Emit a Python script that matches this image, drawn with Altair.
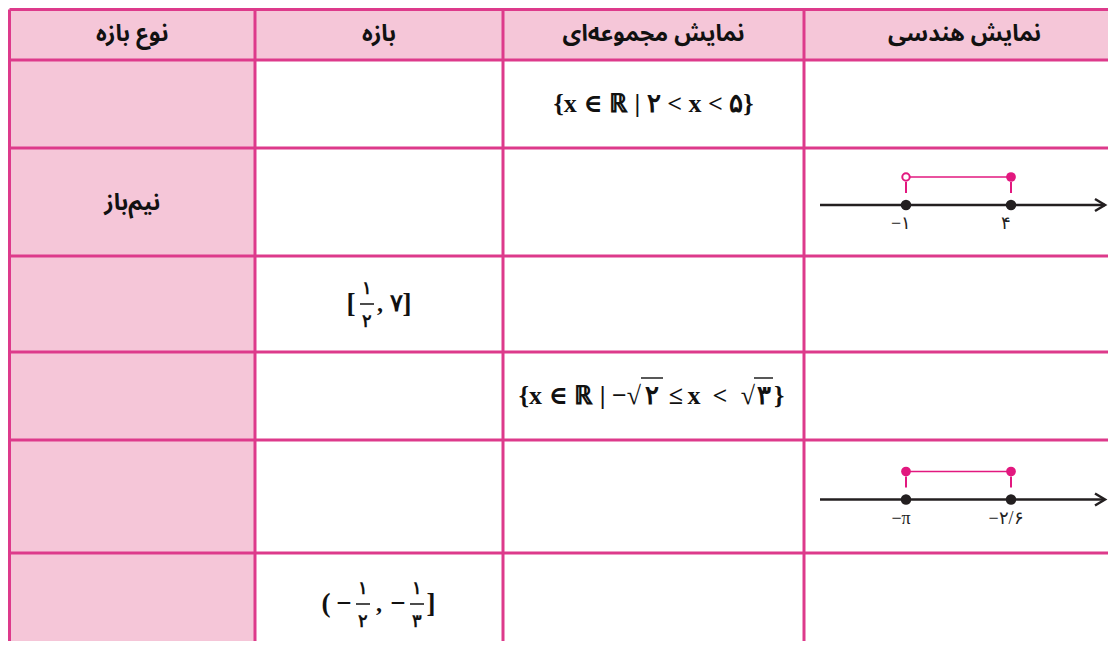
import altair as alt
import pandas as pd

# ---------------- data ----------------
HEADERS = ["نوع بازه", "بازه", "نمایش مجموعه‌ای", "نمایش هندسی"]   # visual left -> right
N_ROWS = 7                      # header + 6 body rows
TYPE_ROWS = [2]
TYPE_TEXT = ["نیم‌باز"]
SET1_ROW = 1
SET1_TEXT = "{x ∈ ℝ | ۲ < x < ۵}"
SET2_ROW = 4
SET2_TOKENS = ["{x ∈ ℝ | −√", "۲", "≤", "x", "<", "√", "۳", "}"]
INT_ROWS = [3, 6]
INT_TOKENS = [
    ["[", ("۱", "۲"), ",", "۷", "]"],
    ["(", "−", ("۱", "۲"), ",", "−", ("۱", "۳"), "]"],
]
NL_ROWS = [2, 5]
NL_LEFT_LABEL = ["−۱", "−π"]
NL_RIGHT_LABEL = ["۴", "−۲/۶"]
NL_LEFT_CLOSED = [False, True]
NL_RIGHT_CLOSED = [True, True]

# ---------------- layout / style ----------------
XE = [9.5, 255, 503, 804, 1125]                       # column edges (page px)
YE = [9.5, 60, 148, 256, 352, 440, 553, 655]          # row edges (page px)
M = 8
W, H = 1100, 633
BORDER = "#dd3a8b"
HEAD_FILL = "#f5c6d8"
PINK = "#e2187f"
DARK = "#231f20"
INK = "#111111"
AR_FONT = "Noto Sans Arabic, DejaVu Sans"
MATH_FONT = "Liberation Serif, DejaVu Serif"

# token centres (page px) for the interval cells
INT_LAYOUT = [
    [351, 367, 380, 396, 407],
    [326, 344, 363, 379, 398, 417, 431],
]
# set row 2 pieces: (align, page x)
SET2_LAYOUT = [("right", 641), ("center", 652), ("center", 676), ("center", 694), ("center", 720),
               ("right", 755), ("center", 764), ("left", 774)]
SET2_BARS = [(641, 663), (754, 773)]


def ux(px):
    for i in range(len(XE) - 1):
        if px <= XE[i + 1] or i == len(XE) - 2:
            return i + (px - XE[i]) / (XE[i + 1] - XE[i])


def uy(py):
    for i in range(len(YE) - 1):
        if py <= YE[i + 1] or i == len(YE) - 2:
            return i + (py - YE[i]) / (YE[i + 1] - YE[i])


def ccx(col):
    return (XE[col] + XE[col + 1]) / 2


def ccy(row):
    return (YE[row] + YE[row + 1]) / 2


xs = alt.Scale(domain=list(range(len(XE))), range=[e - M for e in XE], zero=False, nice=False)
ys = alt.Scale(domain=list(range(len(YE))), range=[e - M for e in YE], zero=False, nice=False)


def X(f="x"):
    return alt.X(f"{f}:Q", scale=xs, axis=None)


def Y(f="y"):
    return alt.Y(f"{f}:Q", scale=ys, axis=None)


def txt(df, **kw):
    base = dict(font=MATH_FONT, fontWeight="bold", color=INK)
    base.update(kw)
    return alt.Chart(df).mark_text(**base).encode(x=X(), y=Y(), text="t:N")


layers = []

# cells
cells = []
for r in range(N_ROWS):
    for c in range(4):
        kind = "head" if (r == 0 or c == 0) else "body"
        cells.append({"x": c, "x2": c + 1, "y": r, "y2": r + 1, "kind": kind})
layers.append(
    alt.Chart(pd.DataFrame(cells)).mark_rect(strokeWidth=0).encode(
        x=X(), x2="x2", y=Y(), y2="y2",
        color=alt.Color("kind:N", scale=alt.Scale(domain=["head", "body"], range=[HEAD_FILL, "white"]), legend=None),
    )
)

# grid lines
vl = pd.DataFrame([{"x": c, "y": 0, "y2": N_ROWS} for c in range(4)])
hl = pd.DataFrame([{"x": 0, "x2": 4, "y": r} for r in range(N_ROWS)])
layers.append(alt.Chart(vl).mark_rule(color=BORDER, strokeWidth=3).encode(x=X(), y=Y(), y2="y2"))
layers.append(alt.Chart(hl).mark_rule(color=BORDER, strokeWidth=3).encode(x=X(), x2="x2", y=Y()))

# headers
hd = pd.DataFrame({"x": [c + 0.5 for c in range(4)], "y": [uy(ccy(0) - 1)] * 4, "t": HEADERS})
layers.append(txt(hd, font=AR_FONT, fontSize=23))

# type column
td = pd.DataFrame({"x": [0.5] * len(TYPE_ROWS), "y": [uy(ccy(r) + 1) for r in TYPE_ROWS], "t": TYPE_TEXT})
layers.append(txt(td, font=AR_FONT, fontSize=23))

# set notation
layers.append(txt(pd.DataFrame({"x": [2.5], "y": [SET1_ROW + 0.5], "t": [SET1_TEXT]}), fontSize=26))
cy4 = ccy(SET2_ROW)
for tok, (al, px) in zip(SET2_TOKENS, SET2_LAYOUT):
    layers.append(txt(pd.DataFrame({"x": [ux(px)], "y": [uy(cy4)], "t": [tok]}), fontSize=26, align=al))
bars = pd.DataFrame({"x": [ux(a) for a, b in SET2_BARS], "x2": [ux(b) for a, b in SET2_BARS],
                     "y": [uy(cy4 - 18)] * len(SET2_BARS)})
layers.append(alt.Chart(bars).mark_rule(color=INK, strokeWidth=1.4).encode(x=X(), x2="x2", y=Y()))

# interval notation with stacked fractions
for row, toks, lay in zip(INT_ROWS, INT_TOKENS, INT_LAYOUT):
    cy0 = ccy(row)
    for tok, fx in zip(toks, lay):
        if isinstance(tok, tuple):
            fr = pd.DataFrame({"x": [ux(fx)] * 2, "y": [uy(cy0 - 15), uy(cy0 + 18)], "t": list(tok)})
            layers.append(txt(fr, fontSize=18))
            bar = pd.DataFrame({"x": [ux(fx - 7)], "x2": [ux(fx + 7)], "y": [uy(cy0)]})
            layers.append(alt.Chart(bar).mark_rule(color=INK, strokeWidth=1.5).encode(x=X(), x2="x2", y=Y()))
        else:
            d = pd.DataFrame({"x": [ux(fx)], "y": [uy(cy0)], "t": [tok]})
            layers.append(txt(d, fontSize=27 if tok in "−[]()" else 24))

# number lines
AX0, AX1 = 820, 1105
P0, P1 = 906, 1011
for row, ll, rl, lc, rc in zip(NL_ROWS, NL_LEFT_LABEL, NL_RIGHT_LABEL, NL_LEFT_CLOSED, NL_RIGHT_CLOSED):
    cy0 = ccy(row)
    ay, py, ly = cy0 + 3, cy0 - 25, cy0 + 22
    layers.append(alt.Chart(pd.DataFrame({"x": [ux(AX0)], "x2": [ux(AX1)], "y": [uy(ay)]})).mark_rule(
        color=DARK, strokeWidth=2.5).encode(x=X(), x2="x2", y=Y()))
    layers.append(alt.Chart(pd.DataFrame({"x": [ux(AX1)], "y": [uy(ay)]})).mark_point(
        shape="M-1,-0.6L0,0L-1,0.6", filled=False, size=400, color=DARK, strokeWidth=2.5, opacity=1).encode(
        x=X(), y=Y()))
    layers.append(alt.Chart(pd.DataFrame({"x": [ux(P0)], "x2": [ux(P1)], "y": [uy(py)]})).mark_rule(
        color=PINK, strokeWidth=1.6).encode(x=X(), x2="x2", y=Y()))
    layers.append(alt.Chart(pd.DataFrame({"x": [ux(P0), ux(P1)], "y": [uy(py + 5)] * 2, "y2": [uy(ay - 12)] * 2})).mark_rule(
        color=PINK, strokeWidth=2).encode(x=X(), y=Y(), y2="y2"))
    layers.append(alt.Chart(pd.DataFrame({"x": [ux(P0), ux(P1)], "y": [uy(ay)] * 2})).mark_point(
        shape="circle", filled=True, size=110, color=DARK, opacity=1).encode(x=X(), y=Y()))
    for px, closed in ((P0, lc), (P1, rc)):
        pd_ = pd.DataFrame({"x": [ux(px)], "y": [uy(py)]})
        if closed:
            layers.append(alt.Chart(pd_).mark_point(shape="circle", filled=True, size=95, color=PINK, opacity=1).encode(
                x=X(), y=Y()))
        else:
            layers.append(alt.Chart(pd_).mark_point(shape="circle", filled=True, size=55, fill="white", stroke=PINK,
                                                    strokeWidth=2, opacity=1).encode(x=X(), y=Y()))
    lab = pd.DataFrame({"x": [ux(P0 - 5), ux(P1 - 5)], "y": [uy(ly)] * 2, "t": [ll, rl]})
    layers.append(txt(lab, fontSize=18, fontWeight="normal", color="#222"))

chart = alt.layer(*layers).properties(
    width=W, height=H, autosize=alt.AutoSizeParams(type="none"), padding=0
).configure_view(stroke=None)

chart.save("out.html", embed_options={"renderer": "svg", "actions": False})
